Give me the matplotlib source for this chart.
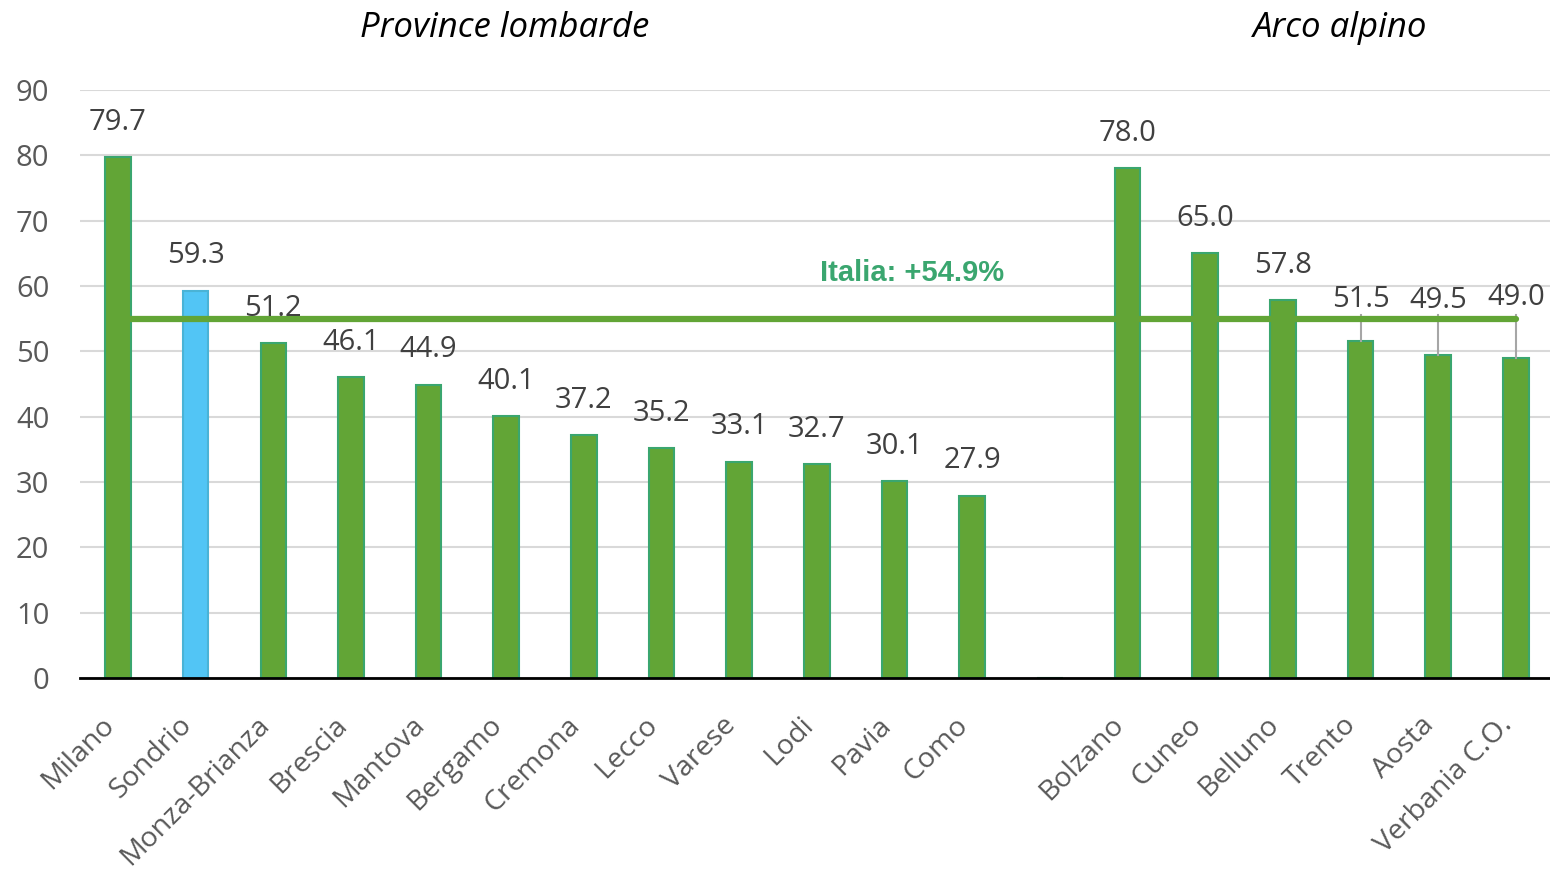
import matplotlib.pyplot as plt
import matplotlib.transforms as mtransforms
import numpy as np

# data
province = ['Milano', 'Sondrio', 'Monza-Brianza', 'Brescia', 'Mantova', 'Bergamo',
            'Cremona', 'Lecco', 'Varese', 'Lodi', 'Pavia', 'Como']
province_val = [79.7, 59.3, 51.2, 46.1, 44.9, 40.1, 37.2, 35.2, 33.1, 32.7, 30.1, 27.9]
alpino = ['Bolzano', 'Cuneo', 'Belluno', 'Trento', 'Aosta', 'Verbania C.O.']
alpino_val = [78.0, 65.0, 57.8, 51.5, 49.5, 49.0]
italia = 54.9
highlight = 'Sondrio'

plt.rcParams['font.family'] = ['Open Sans', 'DejaVu Sans']

green = '#62a536'
green_edge = '#3aa66f'
blue = '#52c5f5'
blue_edge = '#4ab3d6'

labels = province + [''] + alpino
values = province_val + [np.nan] + alpino_val
x = np.arange(len(labels))

fig = plt.figure(figsize=(15.5, 8.73), dpi=100)
ax = fig.add_axes([0.0516, 0.2234, 0.9484, 0.6736])

colors = [blue if l == highlight else green for l in labels]
edges = [blue_edge if l == highlight else green_edge for l in labels]
ax.bar(x, np.nan_to_num(values), width=0.33, color=colors, edgecolor=edges,
       linewidth=1.5, zorder=2)

# Italia average line
ax.plot([x[0], x[-1]], [italia, italia], color=green, lw=4.5,
        solid_capstyle='round', zorder=4)
ax.text(10.23, 62.0, 'Italia: +54.9%', color='#3aa66f', fontsize=21,
        fontweight='bold', family=['Liberation Sans', 'DejaVu Sans'],
        ha='center', va='center', zorder=5)

# data labels
moved = {'Trento': 58.0, 'Aosta': 57.7, 'Verbania C.O.': 58.3}
for xi, l, v in zip(x, labels, values):
    if np.isnan(v):
        continue
    if l in moved:
        ax.plot([xi, xi], [55.5, v], color='#a6a6a6', lw=1.5, zorder=3)
        ax.text(xi, moved[l], f'{v:.1f}', ha='center', va='center',
                fontsize=21, color='#404040', zorder=5)
    else:
        ax.annotate(f'{v:.1f}', (xi, v), xytext=(0, 25), textcoords='offset points',
                    ha='center', va='center', fontsize=21, color='#404040', zorder=5)

ax.set_xlim(-0.49, 18.44)
ax.set_ylim(0, 90)
ax.set_yticks(np.arange(0, 91, 10))
ax.grid(axis='y', color='#d9d9d9', lw=1.5, zorder=0)
ax.set_axisbelow(True)
for s in ['left', 'right', 'top']:
    ax.spines[s].set_visible(False)
ax.spines['bottom'].set_linewidth(2)
ax.spines['bottom'].set_color('black')
ax.spines['bottom'].set_zorder(6)

ax.set_xticks(x)
ax.set_xticklabels(labels, rotation=45, ha='right', va='center', rotation_mode='anchor')
ax.tick_params(axis='x', length=0, pad=31, labelsize=20.5, labelcolor='#595959')
ax.tick_params(axis='y', length=0, pad=22, labelsize=21, labelcolor='#595959')
shift = mtransforms.ScaledTranslation(-0.08, 0, fig.dpi_scale_trans)
for t in ax.get_xticklabels():
    t.set_transform(t.get_transform() + shift)

fig.text(505 / 1550, 1 - 28 / 873, 'Province lombarde', fontsize=25, style='italic',
         ha='center', va='center')
fig.text(1340 / 1550, 1 - 28 / 873, 'Arco alpino', fontsize=25, style='italic',
         ha='center', va='center')

fig.savefig('out.png', dpi=100)
